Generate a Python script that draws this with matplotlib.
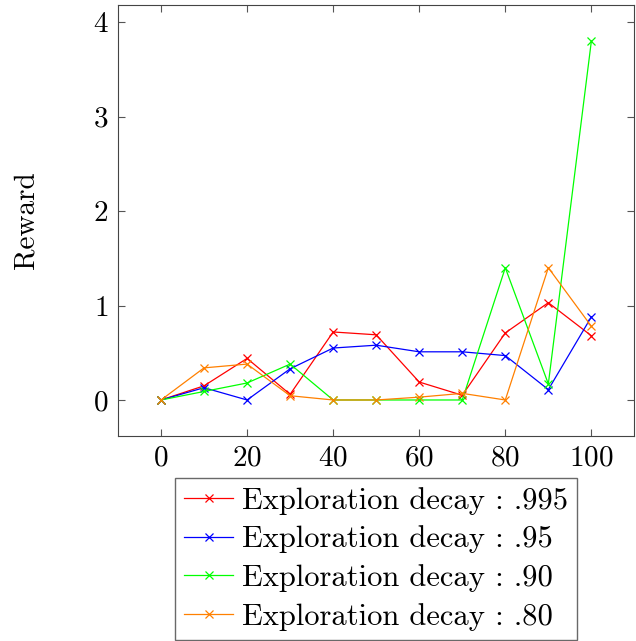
import matplotlib.pyplot as plt

plt.rcParams["font.family"] = "serif"
plt.rcParams["font.serif"] = ["cmr10"]
plt.rcParams["mathtext.fontset"] = "cm"
plt.rcParams["axes.formatter.use_mathtext"] = True

# === DATA ===
episodes = [0, 10, 20, 30, 40, 50, 60, 70, 80, 90, 100]
r_995 = [0, 0.15, 0.44, 0.06, 0.72, 0.69, 0.19, 0.05, 0.71, 1.03, 0.68]
r_95 = [0, 0.13, 0, 0.33, 0.55, 0.58, 0.51, 0.51, 0.47, 0.11, 0.88]
r_90 = [0, 0.09, 0.18, 0.38, 0, 0, 0, 0, 1.40, 0.17, 3.80]
r_80 = [0, 0.34, 0.38, 0.045, 0, 0, 0.03, 0.07, 0, 1.40, 0.78]
labels = ["Exploration decay : .995", "Exploration decay : .95",
          "Exploration decay : .90", "Exploration decay : .80"]
colors = ["#ff0000", "#0000ff", "#00ff00", "#ff8000"]

fig = plt.figure(figsize=(6.36, 6.41), dpi=100)
ax = fig.add_axes([0.1855, 0.32, 0.812, 0.672])

for ys, lab, c in zip([r_995, r_95, r_90, r_80], labels, colors):
    ax.plot(episodes, ys, color=c, lw=0.9, marker="x", ms=6, mew=0.9, label=lab)

ax.set_xlim(-10, 110)
ax.set_ylim(-0.38, 4.18)
ax.set_xticks([0, 20, 40, 60, 80, 100])
ax.set_yticks([0, 1, 2, 3, 4])
ax.tick_params(direction="in", top=True, right=True, labelsize=21, length=5,
               color="#555555", pad=7)
ax.set_ylabel("Reward", fontsize=21, labelpad=38)
for s in ax.spines.values():
    s.set_color("#444444")

leg = ax.legend(loc="upper center", bbox_to_anchor=(0.5, -0.097), fontsize=22,
                frameon=True, fancybox=False, edgecolor="#444444",
                handlelength=1.6, handletextpad=0.3, borderpad=0.3,
                labelspacing=0.35, borderaxespad=0)
leg.get_frame().set_linewidth(1.0)

fig.savefig("out.png", dpi=100)
